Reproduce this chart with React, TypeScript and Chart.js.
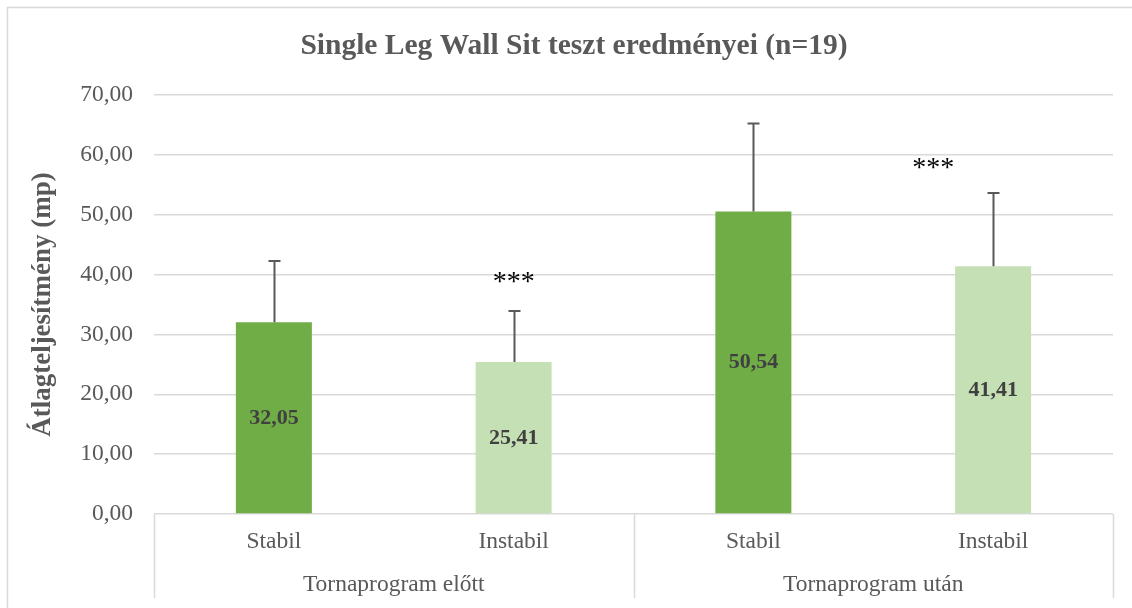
import React, { useEffect, useRef } from "react";
import { Chart, registerables } from "chart.js";

Chart.register(...registerables);

const TITLE = "Single Leg Wall Sit teszt eredményei (n=19)";
const Y_TITLE = "Átlagteljesítmény (mp)";
const CATEGORIES = ["Stabil", "Instabil", "Stabil", "Instabil"];
const GROUPS = ["Tornaprogram előtt", "Tornaprogram után"];
const GROUP_SIZES = [2, 2];
const MEANS = [32.05, 25.41, 50.54, 41.41];
const SD = [10.2, 8.5, 14.7, 12.2];
const VALUE_LABELS = ["32,05", "25,41", "50,54", "41,41"];
const BAR_COLORS = ["#70ad47", "#c5e0b4", "#70ad47", "#c5e0b4"];
const SIG_LABELS = ["***", "***"];
const SIG_X = [1, 2.75];
const SIG_Y = [40, 59];
const Y_MIN = 0;
const Y_MAX = 70;
const Y_STEP = 10;

const SERIF = '"Liberation Serif", "Times New Roman", serif';
const TEXT = "#595959";
const GRID = "#d9d9d9";

const decor = {
  id: "decor",
  beforeDraw(chart: any) {
    const ctx = chart.ctx;
    ctx.save();
    ctx.strokeStyle = GRID;
    ctx.lineWidth = 1.5;
    ctx.beginPath();
    ctx.moveTo(7.5, chart.height);
    ctx.lineTo(7.5, 7.5);
    ctx.lineTo(chart.width, 7.5);
    ctx.stroke();
    ctx.restore();
  },
  afterDatasetsDraw(chart: any) {
    const ctx = chart.ctx;
    const x = chart.scales.x;
    const y = chart.scales.y;
    ctx.save();
    ctx.strokeStyle = "#595959";
    ctx.lineWidth = 2;
    MEANS.forEach((m, i) => {
      const px = Math.round(x.getPixelForValue(i)) + 0.5;
      const top = y.getPixelForValue(m + SD[i]);
      const base = y.getPixelForValue(m);
      ctx.beginPath();
      ctx.moveTo(px, base);
      ctx.lineTo(px, top);
      ctx.moveTo(px - 6, top);
      ctx.lineTo(px + 6, top);
      ctx.stroke();
    });
    ctx.fillStyle = "#404040";
    ctx.font = `bold 22px ${SERIF}`;
    ctx.textAlign = "center";
    ctx.textBaseline = "middle";
    MEANS.forEach((m, i) => {
      const px = x.getPixelForValue(i);
      const py = (y.getPixelForValue(m) + y.getPixelForValue(0)) / 2;
      ctx.fillText(VALUE_LABELS[i], px, py);
    });
    ctx.restore();
  },
  afterDraw(chart: any) {
    const ctx = chart.ctx;
    const x = chart.scales.x;
    const y = chart.scales.y;
    const area = chart.chartArea;
    ctx.save();
    ctx.fillStyle = TEXT;
    ctx.textAlign = "center";
    ctx.textBaseline = "middle";
    ctx.font = `bold 29.5px ${SERIF}`;
    ctx.fillText(TITLE, 574, 46);
    ctx.save();
    ctx.translate(43, (area.top + area.bottom) / 2);
    ctx.rotate(-Math.PI / 2);
    ctx.font = `bold 27px ${SERIF}`;
    ctx.fillText(Y_TITLE, 0, 0);
    ctx.restore();
    ctx.font = `23.5px ${SERIF}`;
    CATEGORIES.forEach((c, i) => {
      ctx.fillText(c, x.getPixelForValue(i), area.bottom + 28);
    });
    ctx.strokeStyle = GRID;
    ctx.lineWidth = 1.5;
    let start = 0;
    const bounds: number[] = [-0.5];
    GROUPS.forEach((g, gi) => {
      const n = GROUP_SIZES[gi];
      const center = start + (n - 1) / 2;
      ctx.fillText(g, x.getPixelForValue(center), area.bottom + 71);
      start += n;
      bounds.push(start - 0.5);
    });
    bounds.forEach((b) => {
      const px = Math.round(x.getPixelForValue(b)) + 0.5;
      ctx.beginPath();
      ctx.moveTo(px, area.bottom);
      ctx.lineTo(px, area.bottom + 84);
      ctx.stroke();
    });
    ctx.fillStyle = "#000000";
    ctx.font = `28px ${SERIF}`;
    SIG_LABELS.forEach((s, i) => {
      ctx.fillText(s, x.getPixelForValue(SIG_X[i]), y.getPixelForValue(SIG_Y[i]) + 8);
    });
    ctx.restore();
  },
};

export default function App() {
  const ref = useRef<HTMLCanvasElement | null>(null);
  useEffect(() => {
    if (!ref.current) return;
    const chart = new Chart(ref.current, {
      type: "bar",
      data: {
        labels: CATEGORIES,
        datasets: [
          {
            data: MEANS,
            backgroundColor: BAR_COLORS,
            borderWidth: 0,
            barPercentage: 0.317,
            categoryPercentage: 1,
          },
        ],
      },
      options: {
        responsive: false,
        animation: false,
        layout: { padding: { top: 95, right: 19, left: 0, bottom: 0 } },
        plugins: {
          legend: { display: false },
          title: { display: false },
          tooltip: { enabled: false },
        },
        scales: {
          x: {
            grid: { display: false },
            border: { display: false },
            ticks: { display: false },
            afterFit: (s: any) => {
              s.height = 94;
            },
          },
          y: {
            min: Y_MIN,
            max: Y_MAX,
            ticks: {
              stepSize: Y_STEP,
              padding: 21,
              color: TEXT,
              font: { family: SERIF, size: 23.5 },
              callback: (v: any) => Number(v).toFixed(2).replace(".", ","),
            },
            grid: { color: GRID, lineWidth: 1.5, drawTicks: false },
            border: { display: false },
            afterFit: (s: any) => {
              s.width = 154;
            },
          },
        },
      },
      plugins: [decor],
    });
    return () => chart.destroy();
  }, []);
  return (
    <div style={{ position: "fixed", left: 0, top: 0, width: 1132, height: 608, background: "#fff" }}>
      <canvas ref={ref} width={1132} height={608} style={{ display: "block" }} />
    </div>
  );
}
